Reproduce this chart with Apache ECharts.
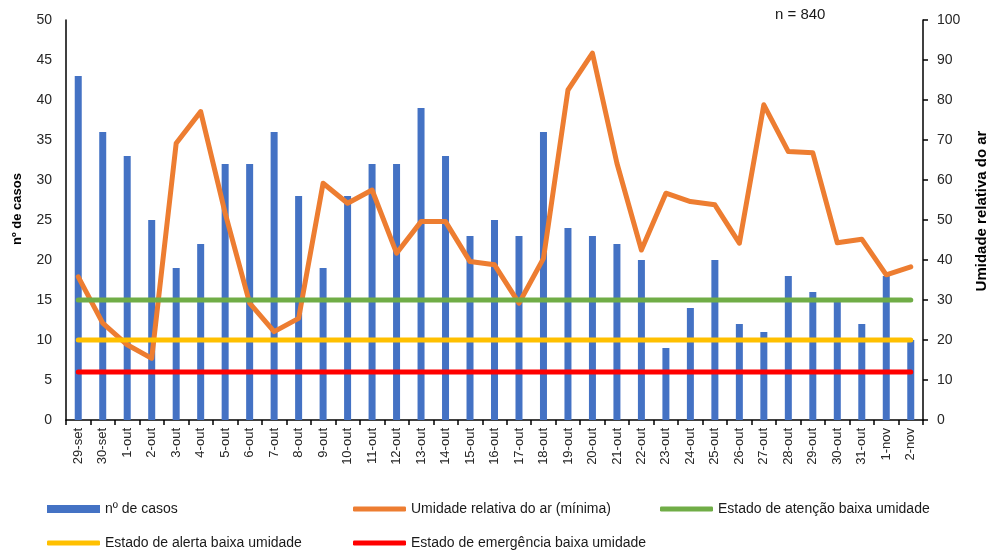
<!DOCTYPE html>
<html>
<head>
<meta charset="utf-8">
<script src="https://cdn.jsdelivr.net/npm/echarts@6/dist/echarts.min.js"></script>
<style>
html,body{margin:0;padding:0;background:#fff;}
#chart{width:989px;height:550px;}
</style>
</head>
<body>
<div id="chart"></div>
<script>
const categories = ['29-set','30-set','1-out','2-out','3-out','4-out','5-out','6-out','7-out','8-out','9-out','10-out','11-out','12-out','13-out','14-out','15-out','16-out','17-out','18-out','19-out','20-out','21-out','22-out','23-out','24-out','25-out','26-out','27-out','28-out','29-out','30-out','31-out','1-nov','2-nov'];
const casos = [43,36,33,25,19,22,32,32,36,28,19,28,32,32,39,33,23,25,23,36,24,23,22,20,9,14,20,12,11,18,16,15,12,18,10];
const umidade = [35.8,24.2,18.8,15.4,69.2,77.1,51.7,29.2,22.1,25.4,59.2,54.2,57.5,41.7,49.6,49.6,39.6,38.8,29.2,40.4,82.5,91.7,64.2,42.5,56.7,54.6,53.8,44.2,78.8,67.1,66.8,44.3,45.2,36.3,38.3];
const atencao = [30,30,30,30,30,30,30,30,30,30,30,30,30,30,30,30,30,30,30,30,30,30,30,30,30,30,30,30,30,30,30,30,30,30,30];
const alerta = [20,20,20,20,20,20,20,20,20,20,20,20,20,20,20,20,20,20,20,20,20,20,20,20,20,20,20,20,20,20,20,20,20,20,20];
const emergencia = [12,12,12,12,12,12,12,12,12,12,12,12,12,12,12,12,12,12,12,12,12,12,12,12,12,12,12,12,12,12,12,12,12,12,12];
const leftTicks = {min:0, max:50, interval:5};
const rightTicks = {min:0, max:100, interval:10};
const names = ['nº de casos','Umidade relativa do ar (mínima)','Estado de atenção baixa umidade','Estado de alerta baixa umidade','Estado de emergência baixa umidade'];
const leftAxisName = 'nº de casos';
const rightAxisName = 'Umidade relativa do ar';
const nLabel = 'n = 840';

const FONT = 'Liberation Sans';
const chart = echarts.init(document.getElementById('chart'), null, {renderer:'canvas'});

function lineSeries(name, data, color){
  return {name:name, type:'line', yAxisIndex:1, data:data, symbol:'none', showSymbol:false,
    lineStyle:{color:color, width:5, cap:'round', join:'round'}, itemStyle:{color:color}, z:3};
}
function leg(name, left, top, icon, h){
  return {data:[name], left:left, top:top, padding:0, itemWidth:53, itemHeight:h, icon:icon, itemGap:0,
    selectedMode:false, textStyle:{fontFamily:FONT, fontSize:14, color:'#1a1a1a'}};
}

chart.setOption({
  animation:false,
  textStyle:{fontFamily:FONT},
  grid:{left:66, right:66, top:20, bottom:130, containLabel:false},
  graphic:[
    {type:'text', x:775, y:15, style:{text:nLabel, font:'15px "Liberation Sans"', fill:'#1a1a1a', verticalAlign:'middle'}},
    {type:'text', x:17, y:209, rotation:Math.PI/2, style:{text:leftAxisName, font:'bold 13px "Liberation Sans"', fill:'#000', align:'center', verticalAlign:'middle'}},
    {type:'text', x:982, y:211, rotation:Math.PI/2, style:{text:rightAxisName, font:'bold 15px "Liberation Sans"', fill:'#000', align:'center', verticalAlign:'middle'}}
  ],
  legend:[
    leg(names[0], 47, 502, 'rect', 8),
    leg(names[1], 353, 502, 'roundRect', 5),
    leg(names[2], 660, 502, 'roundRect', 5),
    leg(names[3], 47, 536, 'roundRect', 5),
    leg(names[4], 353, 536, 'roundRect', 5)
  ],
  xAxis:{type:'category', data:categories, boundaryGap:true,
    axisLine:{show:true, lineStyle:{color:'#000', width:1.5}},
    axisTick:{show:true, length:5, interval:0, lineStyle:{color:'#000', width:1.5}},
    axisLabel:{rotate:90, interval:0, margin:8, fontFamily:FONT, fontSize:13, color:'#262626'},
    splitLine:{show:false}},
  yAxis:[
    {type:'value', min:leftTicks.min, max:leftTicks.max, interval:leftTicks.interval, position:'left',
      axisLine:{show:true, lineStyle:{color:'#000', width:1.5}}, axisTick:{show:false},
      axisLabel:{margin:14, fontFamily:FONT, fontSize:14, color:'#262626'}, splitLine:{show:false}},
    {type:'value', min:rightTicks.min, max:rightTicks.max, interval:rightTicks.interval, position:'right',
      axisLine:{show:true, lineStyle:{color:'#000', width:1.5}},
      axisTick:{show:true, inside:false, length:5, lineStyle:{color:'#000', width:1.5}},
      axisLabel:{margin:14, fontFamily:FONT, fontSize:14, color:'#262626'}, splitLine:{show:false}}
  ],
  series:[
    {name:names[0], type:'bar', yAxisIndex:0, data:casos, barWidth:7, itemStyle:{color:'#4472C4'}, z:2},
    lineSeries(names[1], umidade, '#ED7D31'),
    lineSeries(names[2], atencao, '#70AD47'),
    lineSeries(names[3], alerta, '#FFC000'),
    lineSeries(names[4], emergencia, '#FF0000')
  ]
});
</script>
</body>
</html>
